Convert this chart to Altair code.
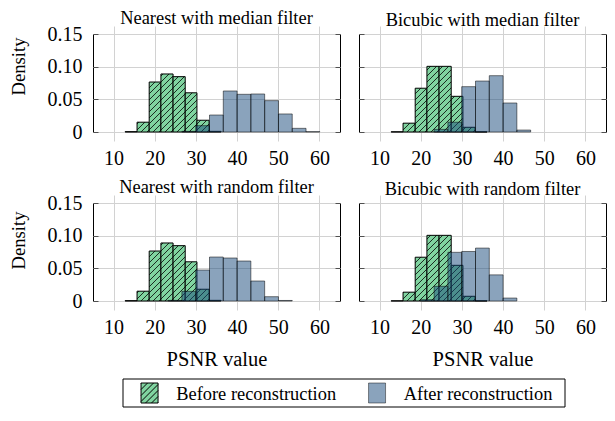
import math
import altair as alt
import pandas as pd

SERIF = "Liberation Serif, Times New Roman, serif"
GREEN = "#80d4a0"
BLUE = "#15477a"
GRID = "#d2d2d2"
TICK_DARK = "#505050"

# ---- data ----
before_edges = [12.8, 15.7, 18.65, 21.5, 24.45, 27.4, 30.25, 33.2, 36.1]
after_edges = [19.9, 23.25, 26.6, 29.95, 33.3, 36.65, 40.0, 43.35, 46.7, 50.05, 53.4, 56.75, 60.1]

before_nearest = [0.0005, 0.0150, 0.0765, 0.0888, 0.0847, 0.0600, 0.0180, 0.0010]
before_bicubic = [0.0003, 0.0135, 0.0670, 0.1005, 0.1005, 0.0546, 0.0072, 0.0003]

after_nearest_median = [0.0, 0.0, 0.0010, 0.0097, 0.0260, 0.0628, 0.0577, 0.0582, 0.0480, 0.0276, 0.0056, 0.0005]
after_bicubic_median = [0.0, 0.0040, 0.0150, 0.0694, 0.0780, 0.0862, 0.0444, 0.0030, 0.0, 0.0, 0.0, 0.0]
after_nearest_random = [0.0, 0.0010, 0.0148, 0.0474, 0.0673, 0.0658, 0.0612, 0.0306, 0.0066, 0.0008, 0.0, 0.0]
after_bicubic_random = [0.0020, 0.0225, 0.0745, 0.0758, 0.0810, 0.0400, 0.0045, 0.0, 0.0, 0.0, 0.0, 0.0]

panel_titles = [
    "Nearest with median filter",
    "Bicubic with median filter",
    "Nearest with random filter",
    "Bicubic with random filter",
]
x_ticks = [10, 20, 30, 40, 50, 60]
y_ticks = [0, 0.05, 0.10, 0.15]
legend_labels = ["Before reconstruction", "After reconstruction"]

# ---- layout / style ----
W, H = 247, 98
X_DOMAIN = [5, 65]
Y_DOMAIN = [0, 0.15]
HATCH_STEP = 6.0


def bars(edges, vals):
    rows = []
    for i, v in enumerate(vals):
        if v > 0:
            rows.append({"x0": edges[i], "x1": edges[i + 1], "density": v})
    return pd.DataFrame(rows)


def hatch(df):
    kx = W / (X_DOMAIN[1] - X_DOMAIN[0])
    ky = H / (Y_DOMAIN[1] - Y_DOMAIN[0])
    rows = []
    for r in df.itertuples():
        X0 = (r.x0 - X_DOMAIN[0]) * kx
        X1 = (r.x1 - X_DOMAIN[0]) * kx
        Yh = r.density * ky
        if Yh < 1.5:
            continue
        n0 = math.floor((X0 - Yh) / HATCH_STEP) - 1
        n1 = math.ceil(X1 / HATCH_STEP) + 1
        for n in range(n0, n1 + 1):
            c = n * HATCH_STEP
            xa = max(X0, c)
            xb = min(X1, c + Yh)
            if xb - xa > 0.4:
                rows.append({
                    "xa": xa / kx + X_DOMAIN[0],
                    "xb": xb / kx + X_DOMAIN[0],
                    "ya": (xa - c) / ky,
                    "yb": (xb - c) / ky,
                })
    return pd.DataFrame(rows)


def panel(before, after, title, left, bottom, title_y):
    xs = alt.Scale(domain=X_DOMAIN, nice=False, zero=False)
    ys = alt.Scale(domain=Y_DOMAIN, nice=False)
    gdf = bars(before_edges, before)
    bdf = bars(after_edges, after)
    hdf = hatch(gdf)

    x_bottom = alt.Axis(
        orient="bottom", values=x_ticks, grid=True, gridColor=GRID, gridWidth=1,
        domain=False, tickColor=GRID, tickSize=9, tickWidth=1,
        labelFont=SERIF, labelFontSize=20, labelColor="black", labelPadding=7,
        labelAngle=0,
        title="PSNR value" if bottom else None,
        titleFont=SERIF, titleFontSize=20.5, titleFontWeight="normal",
        titleColor="black", titlePadding=12,
    )
    y_left = alt.Axis(
        orient="left", values=y_ticks, grid=True, gridColor=GRID, gridWidth=1,
        domain=False, tickColor=TICK_DARK, tickSize=5, tickWidth=1, offset=-5,
        labels=left,
        labelExpr="datum.value == 0 ? '0' : format(datum.value, '.2f')",
        labelFont=SERIF, labelFontSize=20, labelColor="black", labelPadding=11,
        title="Density" if left else None,
        titleFont=SERIF, titleFontSize=18.7, titleFontWeight="normal",
        titleColor="black", titlePadding=19, titleY=title_y,
    )
    x_top = alt.Axis(
        orient="top", values=x_ticks, grid=False, domain=False, labels=False,
        tickColor=GRID, tickSize=8, tickWidth=1, title=None,
    )
    y_right = alt.Axis(
        orient="right", values=y_ticks, grid=False, domain=False, labels=False,
        tickColor=TICK_DARK, tickSize=5, tickWidth=1, offset=-5, title=None,
    )

    green = alt.Chart(gdf).mark_rect(fill=GREEN, stroke="black", strokeWidth=1).encode(
        x=alt.X("x0:Q", scale=xs, axis=x_bottom),
        x2="x1:Q",
        y=alt.Y("density:Q", scale=ys, axis=y_left),
        y2=alt.datum(0),
    )
    lines = alt.Chart(hdf).mark_rule(color="black", strokeWidth=0.8).encode(
        x=alt.X("xa:Q", scale=xs, axis=None),
        x2="xb:Q",
        y=alt.Y("ya:Q", scale=ys, axis=None),
        y2="yb:Q",
    )
    blue = alt.Chart(bdf).mark_rect(
        fill=BLUE, fillOpacity=0.5, stroke="black", strokeOpacity=0.5, strokeWidth=1
    ).encode(
        x=alt.X("x0:Q", scale=xs, axis=x_top),
        x2="x1:Q",
        y=alt.Y("density:Q", scale=ys, axis=y_right),
        y2=alt.datum(0),
    )
    return alt.layer(green, lines, blue).resolve_axis(
        x="independent", y="independent"
    ).properties(
        width=W, height=H,
        title=alt.Title(
            text=title, font=SERIF, fontSize=18.4, fontWeight="normal",
            color="black", anchor="middle", frame="group", offset=-3.5,
        ),
    )


# ---- legend ----
def swatch_path(hatched):
    hw, hh = 0.85, 1.0
    p = f"M{-hw},{-hh}L{hw},{-hh}L{hw},{hh}L{-hw},{hh}Z"
    if hatched:
        step = 0.6
        for k in range(-5, 6):
            c = k * step
            xa = max(-hw, c - hh)
            xb = min(hw, c + hh)
            if xb - xa > 0.05:
                p += f"M{xa:.3f},{c - xa:.3f}L{xb:.3f},{c - xb:.3f}"
    return p


LEG_L, LEG_R, LEG_H = 30, 472, 28
leg_df = pd.DataFrame({"label": legend_labels})
leg_x = alt.X(
    "label:N", sort=legend_labels,
    scale=alt.Scale(type="point", range=[LEG_L, LEG_R], padding=0.4714), axis=None,
)
frame = alt.Chart(pd.DataFrame({"k": [0]})).mark_rect(
    fill="white", stroke="black", strokeWidth=1
).encode(x=alt.value(LEG_L), x2=alt.value(LEG_R), y=alt.value(0), y2=alt.value(LEG_H))
swatches = alt.Chart(leg_df).mark_point(
    size=400, strokeWidth=1, opacity=1, xOffset=-80.7
).encode(
    x=leg_x,
    y=alt.value(LEG_H / 2),
    shape=alt.Shape("label:N", scale=alt.Scale(domain=legend_labels,
                    range=[swatch_path(True), swatch_path(False)]), legend=None),
    fill=alt.Fill("label:N", scale=alt.Scale(domain=legend_labels,
                  range=[GREEN, BLUE]), legend=None),
    fillOpacity=alt.FillOpacity("label:N", scale=alt.Scale(domain=legend_labels,
                                range=[1, 0.5]), legend=None),
    stroke=alt.Stroke("label:N", scale=alt.Scale(domain=legend_labels,
                      range=["black", "black"]), legend=None),
    strokeOpacity=alt.StrokeOpacity("label:N", scale=alt.Scale(domain=legend_labels,
                                    range=[1, 0.45]), legend=None),
)
texts = alt.Chart(leg_df).mark_text(
    align="left", baseline="alphabetic", xOffset=-54, font=SERIF,
    fontSize=18.4, color="black",
).encode(x=leg_x, y=alt.value(LEG_H / 2 + 6.5), text="label:N")
legend = alt.layer(frame, swatches, texts).properties(
    width=LEG_R + 2, height=LEG_H, view=alt.ViewBackground(stroke="transparent")
)

row1 = alt.hconcat(
    panel(before_nearest, after_nearest_median, panel_titles[0], True, False, 32),
    panel(before_bicubic, after_bicubic_median, panel_titles[1], False, False, 32),
    spacing=17,
)
row2 = alt.hconcat(
    panel(before_nearest, after_nearest_random, panel_titles[2], True, True, 37),
    panel(before_bicubic, after_bicubic_random, panel_titles[3], False, True, 37),
    spacing=17,
)

chart = alt.vconcat(row1, row2, legend, spacing=8).properties(
    padding=0
).configure(font=SERIF).configure_view(stroke="black", strokeWidth=1)

chart.save("out.html", embed_options={"renderer": "svg", "actions": False})
